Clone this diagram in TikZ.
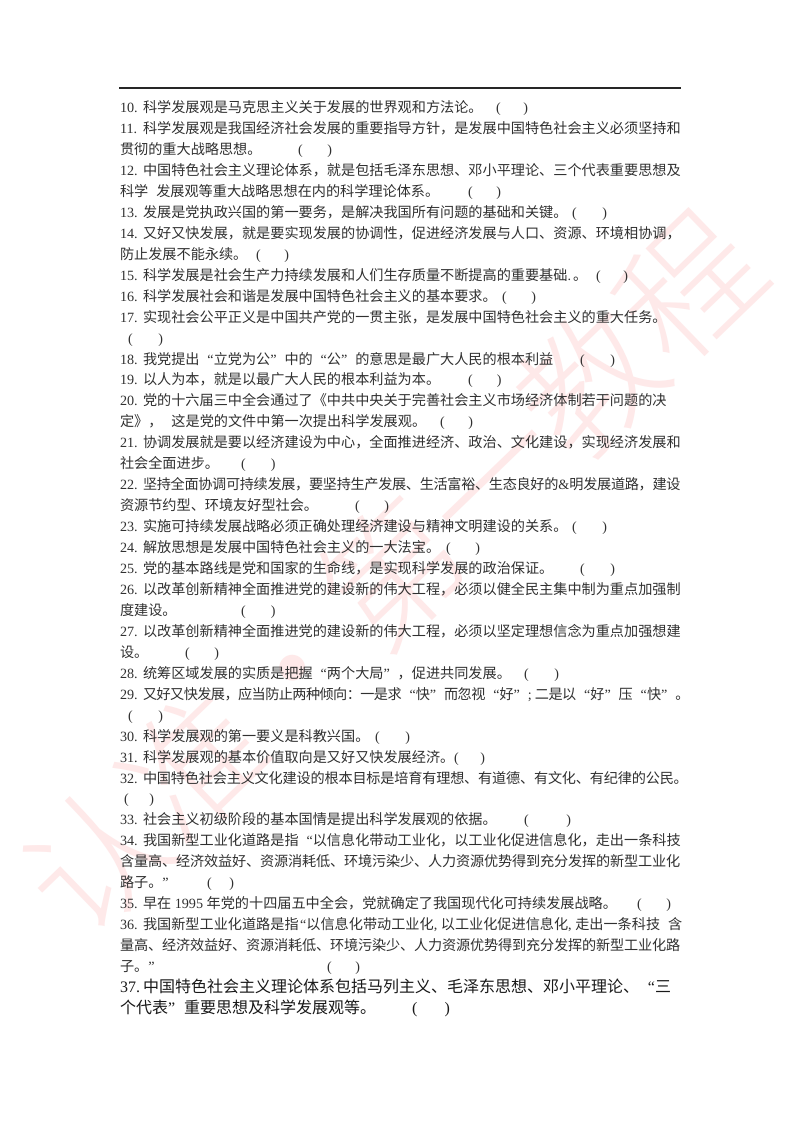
\documentclass[tikz,border=0pt]{standalone}
\usepackage{fontspec}
\setmainfont{Liberation Serif}
\newfontfamily\cjk{Noto Sans CJK SC}
\newfontfamily\cjkwm{Noto Sans CJK SC Light}
\definecolor{ink}{HTML}{303030}
\definecolor{wm}{HTML}{FEE9E9}
\newcommand\ql{\hbox to 1em{\hfil\rmfamily“}}
\newcommand\qr{\hbox to 1em{\rmfamily”\hfil}}
\newcommand\qln{\hbox to .55em{\hfil\rmfamily“}}
\newcommand\ca{\hbox to .5em{{\rmfamily ,}\hfil}}
\newcommand\lm[1]{{\rmfamily #1}}
\newcommand\tight[1]{\addfontfeature{LetterSpace=#1}}
\tikzset{x=1pt,y=-1pt,
  textline/.style={anchor=base west,inner sep=0pt,outer sep=0pt,text=ink,font=\fontsize{14.15pt}{14.15pt}\selectfont\cjk},
  bigline/.style={textline,text=black!90,font=\fontsize{16pt}{16pt}\selectfont\cjk},
  paren/.style={textline,font=\fontsize{14pt}{14pt}\selectfont\rmfamily},
  bigparen/.style={paren,text=black!90,font=\fontsize{16pt}{16pt}\selectfont\rmfamily}}
\newcommand\Y[1]{112.6+20.95*#1}
% numbered line
\newcommand\nl[4][textline]{\node[#1] (l#2) at (120,{\Y{#2}}) {\hbox to 23pt{\rmfamily #3\hfil}#4};}
% continuation line
\newcommand\cl[3][textline]{\node[#1] (l#2) at (120,{\Y{#2}}) {#3};}
% answer brackets
\newcommand\br[4][paren]{\pgfmathsetmacro\brw{#4-#3}\node[#1] (p#2) at (#3,{\Y{#2}}) {\hbox to \brw pt{(\hfil)}};}
\begin{document}
\begin{tikzpicture}
\useasboundingbox (0,0) rectangle (800,1132);
\fill[white] (0,0) rectangle (800,1132);
\coordinate (wmc) at (392,573);
\node[rotate=44,text=wm,inner sep=0pt,font=\fontsize{137.5pt}{137.5pt}\selectfont\cjkwm] (wmark) at (wmc) {认准·第一教程};
\coordinate (ra) at (119,88);
\coordinate (rb) at (681,88);
\draw[line width=1.3pt,black!85] (ra) -- (rb);
\nl{0}{10.}{科学发展观是马克思主义关于发展的世界观和方法论。}
\br{0}{496}{528}
\nl{1}{11.}{科学发展观是我国经济社会发展的重要指导方针，是发展中国特色社会主义必须坚持和}
\cl{2}{贯彻的重大战略思想。}
\br{2}{298}{332}
\nl{3}{12.}{中国特色社会主义理论体系，就是包括毛泽东思想、邓小平理论、三个代表重要思想及}
\cl{4}{科学\hspace{8pt}发展观等重大战略思想在内的科学理论体系。}
\br{4}{468}{501}
\nl{5}{13.}{发展是党执政兴国的第一要务，是解决我国所有问题的基础和关键。}
\br{5}{572}{607}
\nl{6}{14.}{又好又快发展，就是要实现发展的协调性，促进经济发展与人口、资源、环境相协调，}
\cl{7}{防止发展不能永续。}
\br{7}{256}{289}
\nl{8}{15.}{科学发展是社会生产力持续发展和人们生存质量不断提高的重要基础\lm{.}\hspace{2pt}。}
\br{8}{596}{628}
\nl{9}{16.}{科学发展社会和谐是发展中国特色社会主义的基本要求。}
\br{9}{502}{536}
\nl{10}{17.}{实现社会公平正义是中国共产党的一贯主张，是发展中国特色社会主义的重大任务。}
\br{11}{128}{163}
\nl{12}{18.}{我党提出\ql 立党为公\qr 中的\ql 公\qr 的意思是最广大人民的根本利益}
\br{12}{580}{615}
\nl{13}{19.}{以人为本，就是以最广大人民的根本利益为本。}
\br{13}{468}{501.5}
\nl{14}{20.}{党的十六届三中全会通过了《中共中央关于完善社会主义市场经济体制若干问题的决}
\cl{15}{定》，\hspace{9pt}这是党的文件中第一次提出科学发展观。}
\br{15}{440}{473}
\nl{16}{21.}{协调发展就是要以经济建设为中心，全面推进经济、政治、文化建设，实现经济发展和}
\cl{17}{社会全面进步。}
\br{17}{241}{275.5}
\nl{18}{22.}{\tight{-2.2}坚持全面协调可持续发展，要坚持生产发展、生活富裕、生态良好的\lm{\&}明发展道路，建设}
\cl{19}{资源节约型、环境友好型社会。}
\br{19}{355}{389}
\nl{20}{23.}{实施可持续发展战略必须正确处理经济建设与精神文明建设的关系。}
\br{20}{572}{607}
\nl{21}{24.}{解放思想是发展中国特色社会主义的一大法宝。}
\br{21}{446}{480}
\nl{22}{25.}{党的基本路线是党和国家的生命线，是实现科学发展的政治保证。}
\br{22}{580}{615}
\nl{23}{26.}{以改革创新精神全面推进党的建设新的伟大工程，必须以健全民主集中制为重点加强制}
\cl{24}{度建设。}
\br{24}{241}{275.5}
\nl{25}{27.}{以改革创新精神全面推进党的建设新的伟大工程，必须以坚定理想信念为重点加强想建}
\cl{26}{设。}
\br{26}{185}{219}
\nl{27}{28.}{统筹区域发展的实质是把握\ql 两个大局\qr ，促进共同发展。}
\br{27}{524}{559}
\nl{28}{29.}{\tight{-4}又好又快发展，应当防止两种倾向：一是求\ql 快\qr 而忽视\ql 好\qr \hbox to .5em{\rmfamily ;\hfil}二是以\ql 好\qr 压\ql 快\qr 。}
\br{29}{128}{163}
\nl{30}{30.}{科学发展观的第一要义是科教兴国。}
\br{30}{375}{410}
\nl{31}{31.}{科学发展观的基本价值取向是又好又快发展经济。}
\br{31}{454}{485}
\nl{32}{32.}{\tight{-1.3}中国特色社会主义文化建设的根本目标是培育有理想、有道德、有文化、有纪律的公民。}
\br{33}{124}{154}
\nl{34}{33.}{社会主义初级阶段的基本国情是提出科学发展观的依据。}
\br{34}{524}{571}
\nl{35}{34.}{我国新型工业化道路是指\ql 以信息化带动工业化，以工业化促进信息化，走出一条科技}
\cl{36}{\tight{-1.05}含量高、经济效益好、资源消耗低、环境污染少、人力资源优势得到充分发挥的新型工业化}
\cl{37}{路子。\qr}
\br{37}{207}{234}
\nl{38}{35.}{早在\lm{ 1995 }年党的十四届五中全会，党就确定了我国现代化可持续发展战略。}
\br{38}{637}{671}
\nl{39}{36.}{我国新型工业化道路是指\qln 以信息化带动工业化\ca 以工业化促进信息化\ca 走出一条科技\hspace{8pt}含}
\cl{40}{\tight{-1.05}量高、经济效益好、资源消耗低、环境污染少、人力资源优势得到充分发挥的新型工业化路}
\cl{41}{子。\qr}
\br{41}{327}{360}
\nl[bigline]{42}{37.}{中国特色社会主义理论体系包括马列主义、毛泽东思想、邓小平理论、\ql 三}
\cl[bigline]{43}{个代表\qr 重要思想及科学发展观等。}
\br[bigparen]{43}{412}{450}
\end{tikzpicture}
\end{document}
